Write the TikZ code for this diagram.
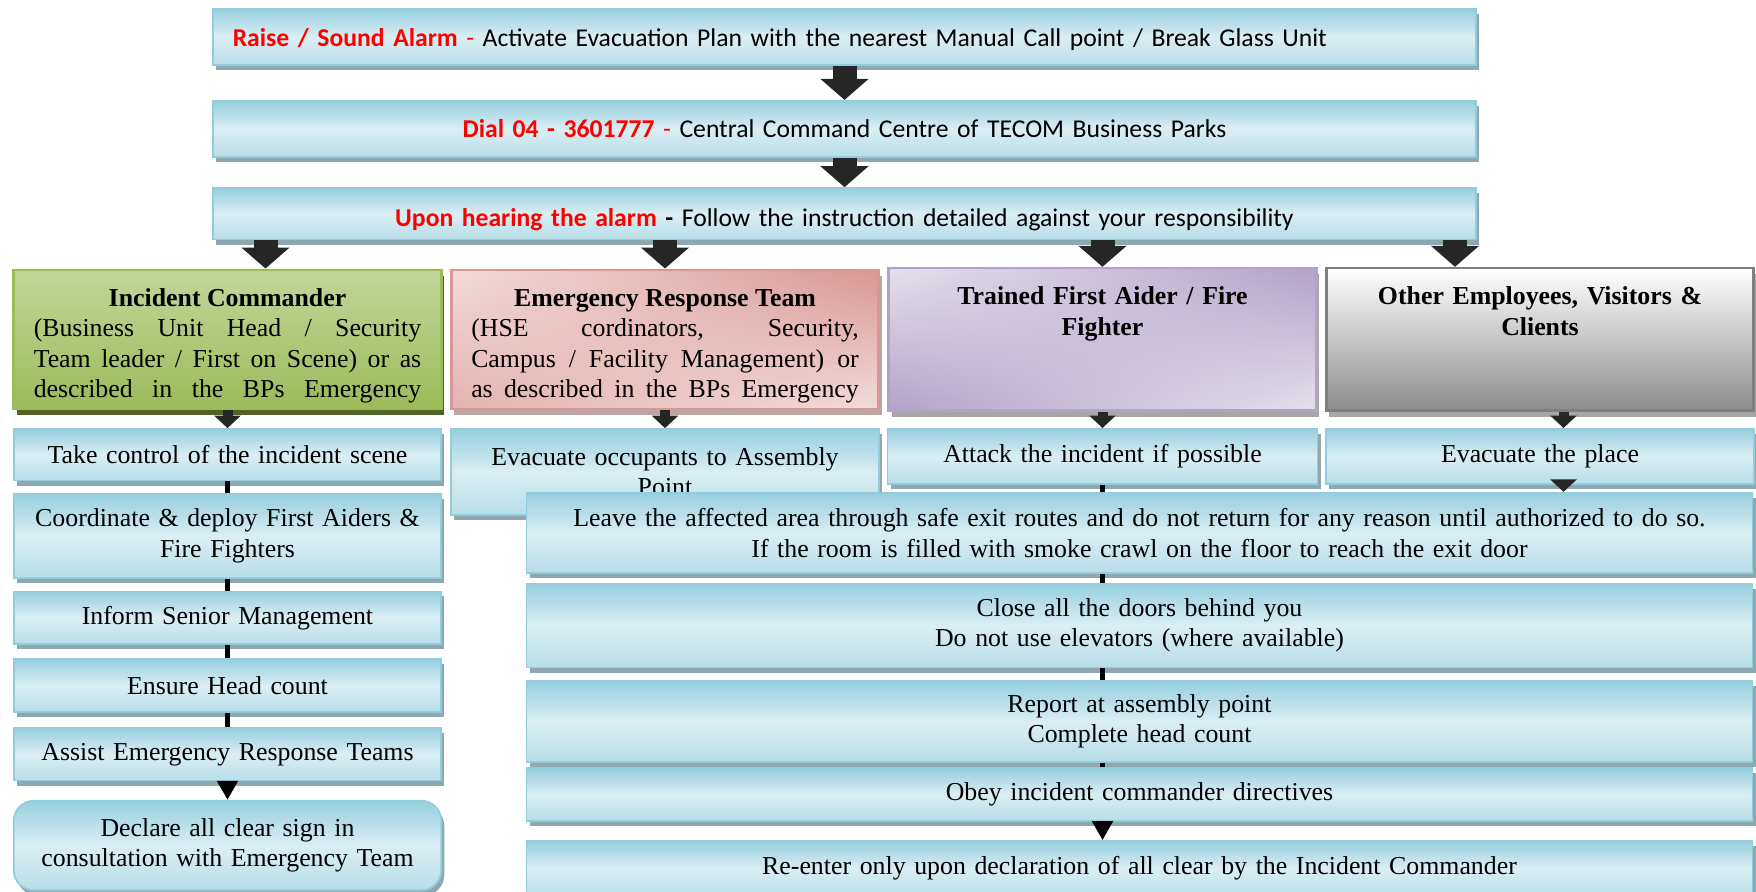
\documentclass[tikz,border=0pt]{standalone}
\usepackage{fontspec}
\setmainfont{Liberation Serif}
\newfontfamily\calibri{Carlito}
\usetikzlibrary{shapes,arrows.meta,shadows,shadings}
\setlength{\parindent}{0pt}

\definecolor{alarmred}{HTML}{FF0000}
\definecolor{boxline}{HTML}{93CDDD}
\definecolor{boxtop}{HTML}{96CFDE}
\definecolor{boxmid}{HTML}{DAEEF3}
\definecolor{boxbot}{HTML}{B7DEE8}
\definecolor{boxshadow}{HTML}{8EA8B0}
\definecolor{icline}{HTML}{9BBB59}
\definecolor{ictop}{HTML}{C3D69B}
\definecolor{icbot}{HTML}{9BBB59}
\definecolor{icshadow}{HTML}{4F6228}
\definecolor{ertlight}{HTML}{F2DCDB}
\definecolor{ertdark}{HTML}{D99694}
\definecolor{ertshadow}{HTML}{BDA5A5}
\definecolor{tfalight}{HTML}{E5E0EC}
\definecolor{tfadark}{HTML}{B3A2C7}
\definecolor{greyline}{HTML}{7F7F7F}
\definecolor{greybot}{HTML}{8C8C8C}
\definecolor{greyshadow}{HTML}{A6A6A6}
\definecolor{arrowdark}{HTML}{262626}

\begin{document}
\begin{tikzpicture}[auto, font=\fontsize{14.7}{17.2}\selectfont]
  \tikzstyle{topbox} = [rectangle, draw=boxline, line width=1pt,
    top color=boxtop, bottom color=boxbot, middle color=boxmid,
    drop shadow={shadow xshift=0.06cm, shadow yshift=-0.1cm, fill=boxshadow, opacity=1},
    font=\calibri\fontsize{14.6}{17.2}\selectfont, text width=24.47cm, inner xsep=0.4cm,
    minimum height=1.12cm]
  \tikzstyle{block} = [rectangle, draw=boxline, line width=1pt,
    top color=boxtop, bottom color=boxbot, middle color=boxmid,
    drop shadow={shadow xshift=0.06cm, shadow yshift=-0.1cm, fill=boxshadow, opacity=1},
    text centered, inner xsep=0.2cm]
  \tikzstyle{role} = [rectangle, line width=1.5pt, text width=7.75cm, inner xsep=0.4cm,
    minimum height=2.78cm, align=justify]
  \tikzstyle{commander} = [role, draw=icline, top color=ictop, bottom color=icbot,
    drop shadow={shadow xshift=0.06cm, shadow yshift=-0.12cm, fill=icshadow, opacity=1}]
  \tikzstyle{responder} = [role, draw=ertdark, upper left=ertlight, upper right=ertdark,
    lower left=ertdark!60!ertlight, lower right=ertlight,
    drop shadow={shadow xshift=0.06cm, shadow yshift=-0.12cm, fill=ertshadow, opacity=1}]
  \tikzstyle{aider} = [role, draw=tfadark, upper left=tfalight, upper right=tfadark,
    lower left=tfadark, lower right=tfalight, align=center, font=\bfseries\fontsize{14.7}{17.2}\selectfont,
    drop shadow={shadow xshift=0.06cm, shadow yshift=-0.12cm, fill=greyshadow, opacity=1}]
  \tikzstyle{others} = [role, draw=greyline, top color=white, bottom color=greybot,
    align=center, font=\bfseries\fontsize{14.7}{17.2}\selectfont,
    drop shadow={shadow xshift=0.06cm, shadow yshift=-0.12cm, fill=greyshadow, opacity=1}]
  \tikzstyle{bigarrow} = [draw=arrowdark, line width=0.48cm, -{Triangle[width=0.94cm,length=0.42cm]}]
  \tikzstyle{smallarrow} = [draw=arrowdark, line width=0.2cm, -{Triangle[width=0.52cm,length=0.25cm]}]
  \tikzstyle{link} = [draw, line width=3pt]
  \tikzstyle{linkarrow} = [draw, line width=3pt, -{Triangle[width=0.4cm,length=0.38cm]}]

  \useasboundingbox (0,0) rectangle (35.12,-17.83);

  % Place nodes
  \node [topbox, align=left] (alarm) at (16.89,-0.739) {\rule{0pt}{12.8pt}\textcolor{alarmred}{\textbf{Raise / Sound Alarm} -}
    Activate Evacuation Plan with the nearest Manual Call point / Break Glass Unit};
  \node [topbox, text centered, below of=alarm, node distance=1.837cm] (dial)
    {\textcolor{alarmred}{\textbf{Dial 04 - 3601777} -} Central Command Centre of TECOM Business Parks};
  \node [topbox, text centered, below of=dial, node distance=1.70cm, minimum height=1.03cm] (respond)
    {\rule{0pt}{16.4pt}\textcolor{alarmred}{\textbf{Upon hearing the alarm}} \textbf{-} Follow the instruction detailed against your responsibility};

  \node [commander] (ic) at (4.55,-6.787) {\parfillskip=0pt
    \hspace*{\fill}\rule{0pt}{17.6pt}\textbf{Incident Commander}\hspace*{\fill}\par
    (Business Unit Head / Security\linebreak Team leader / First on Scene) or as\linebreak
    described in the BPs Emergency\par};
  \node [responder, right of=ic, node distance=8.75cm] (ert) {\parfillskip=0pt
    \hspace*{\fill}\rule{0pt}{17.6pt}\textbf{Emergency Response Team}\hspace*{\fill}\par
    (HSE cordinators, Security,\linebreak Campus / Facility Management) or\linebreak
    as described in the BPs Emergency\par};
  \node [aider, right of=ert, node distance=8.75cm] (tfa)
    {\rule{0pt}{17.6pt}Trained First Aider / Fire\\ Fighter\\ \strut\\ \strut};
  \node [others, right of=tfa, node distance=8.75cm] (other)
    {\rule{0pt}{17.6pt}Other Employees, Visitors \&\\ Clients\\ \strut\\ \strut};

  \node [block, text width=8.15cm, below of=ic, node distance=2.308cm, minimum height=1.03cm] (take)
    {Take control of the incident scene};
  \node [block, text width=8.15cm, below of=take, node distance=1.623cm, minimum height=1.68cm] (coord)
    {Coordinate \& deploy First Aiders \&\\ Fire Fighters};
  \node [block, text width=8.15cm, below of=coord, node distance=1.636cm, minimum height=1.05cm] (inform)
    {Inform Senior Management};
  \node [block, text width=8.15cm, below of=inform, node distance=1.356cm, minimum height=1.07cm] (ensure)
    {Ensure Head count};
  \node [block, text width=8.15cm, below of=ensure, node distance=1.375cm, minimum height=1.05cm] (assist)
    {Assist Emergency Response Teams};
  \node [block, text width=8.15cm, below of=assist, node distance=1.825cm, minimum height=1.79cm,
    rounded corners=0.4cm] (declare) {Declare all clear sign in\\ consultation with Emergency Team};

  \node [block, text width=8.15cm, below of=ert, node distance=2.653cm, minimum height=1.72cm] (evacpts)
    {Evacuate occupants to Assembly\\ Point};
  \node [block, text width=8.2cm, below of=tfa, node distance=2.341cm, minimum height=1.10cm] (attack)
    {Attack the incident if possible};
  \node [block, text width=8.15cm, below of=other, node distance=2.341cm, minimum height=1.10cm] (evacplace)
    {Evacuate the place};

  \node [block, text width=24.12cm, below of=attack, node distance=1.532cm, xshift=0.74cm,
    minimum height=1.61cm] (leave)
    {Leave the affected area through safe exit routes and do not return for any reason until authorized to do so.\\
     If the room is filled with smoke crawl on the floor to reach the exit door};
  \node [block, text width=24.12cm, below of=leave, node distance=1.85cm, minimum height=1.68cm] (close)
    {Close all the doors behind you\\ Do not use elevators (where available)};
  \node [block, text width=24.12cm, below of=close, node distance=1.92cm, minimum height=1.61cm] (report)
    {Report at assembly point\\ Complete head count};
  \node [block, text width=24.12cm, below of=report, node distance=1.46cm, minimum height=1.05cm] (obey)
    {Obey incident commander directives};
  \node [block, text width=24.12cm, below of=obey, node distance=1.48cm, minimum height=1.1cm] (reenter)
    {Re-enter only upon declaration of all clear by the Incident Commander};

  \coordinate (icin) at ([xshift=0.76cm]ic.north);
  \coordinate (otherin) at ([xshift=-1.7cm]other.north);
  \coordinate (otherout) at ([xshift=0.47cm]other.south);

  % Draw edges
  \path [bigarrow] (alarm) -- (dial);
  \path [bigarrow] (dial) -- (respond);

  \path [bigarrow] (icin |- respond.south) -- (icin);
  \path [bigarrow] (ert.north |- respond.south) -- (ert.north);
  \path [bigarrow] (tfa.north |- respond.south) -- (tfa.north);
  \path [bigarrow] (otherin |- respond.south) -- (otherin);

  \path [smallarrow] (ic) -- (take);
  \path [smallarrow] (ert) -- (evacpts);
  \path [smallarrow] (tfa) -- (attack);
  \path [smallarrow] (otherout) -- (otherout |- evacplace.north);
  \path [smallarrow] (otherout |- evacplace.south) -- (otherout |- leave.north);

  \path [link] (take) -- (coord);
  \path [link] (coord) -- (inform);
  \path [link] (inform) -- (ensure);
  \path [link] (ensure) -- (assist);
  \path [linkarrow] (assist) -- (declare);

  \path [link] (attack) -- (attack |- leave.north);
  \path [link] (attack |- leave.south) -- (attack |- close.north);
  \path [link] (attack |- close.south) -- (attack |- report.north);
  \path [link] (attack |- report.south) -- (attack |- obey.north);
  \path [linkarrow] (attack |- obey.south) -- (attack |- reenter.north);

\end{tikzpicture}
\end{document}
